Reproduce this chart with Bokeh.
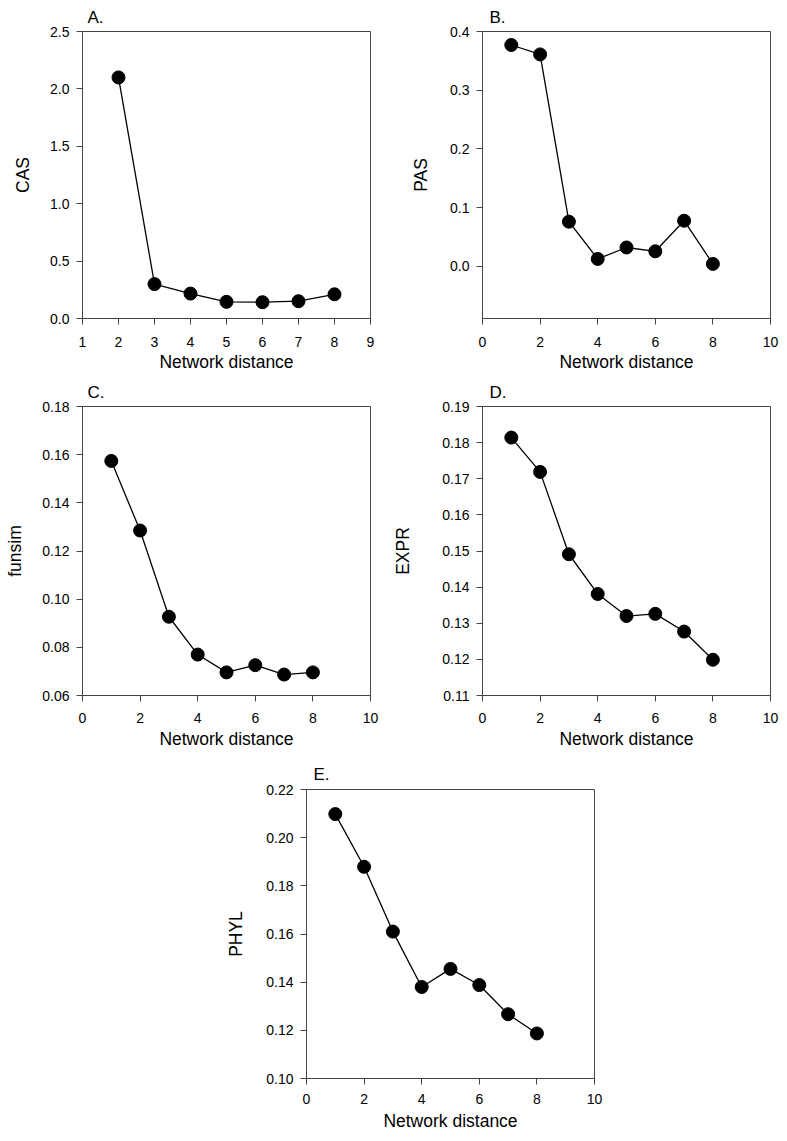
from bokeh.plotting import figure
from bokeh.layouts import column, row
from bokeh.models import FixedTicker, PrintfTickFormatter, Spacer, Range1d
from bokeh.embed import file_html
from bokeh.resources import INLINE

FONT = "Liberation Sans"

# ---- data ----
x_A = [2, 3, 4, 5, 6, 7, 8]
cas = [2.10, 0.30, 0.217, 0.145, 0.142, 0.151, 0.211]

x_B = [1, 2, 3, 4, 5, 6, 7, 8]
pas = [0.377, 0.361, 0.076, 0.0125, 0.032, 0.0255, 0.0776, 0.004]

x_C = [1, 2, 3, 4, 5, 6, 7, 8]
funsim = [0.1574, 0.1285, 0.0927, 0.0770, 0.0696, 0.0726, 0.0687, 0.0696]

x_D = [1, 2, 3, 4, 5, 6, 7, 8]
expr = [0.1814, 0.1719, 0.1491, 0.1381, 0.1320, 0.1326, 0.1277, 0.1199]

x_E = [1, 2, 3, 4, 5, 6, 7, 8]
phyl = [0.2098, 0.1879, 0.1610, 0.1380, 0.1455, 0.1388, 0.1267, 0.1187]

xticks_A = [1, 2, 3, 4, 5, 6, 7, 8, 9]
xticks_other = [0, 2, 4, 6, 8, 10]
yticks_A = [0.0, 0.5, 1.0, 1.5, 2.0, 2.5]
yticks_B = [0.0, 0.1, 0.2, 0.3, 0.4]
yticks_C = [0.06, 0.08, 0.10, 0.12, 0.14, 0.16, 0.18]
yticks_D = [0.11, 0.12, 0.13, 0.14, 0.15, 0.16, 0.17, 0.18, 0.19]
yticks_E = [0.10, 0.12, 0.14, 0.16, 0.18, 0.20, 0.22]


def panel(title, xs, ys, ylabel, xr, yr, xt, yt, yfmt, width, height,
          mbl, mbr, mbt, mbb, toff, tstand, ylstand, xtstand, xlstand):
    p = figure(width=width, height=height, output_backend="svg",
               toolbar_location=None, title=title,
               x_range=Range1d(*xr), y_range=Range1d(*yr),
               min_border_left=mbl, min_border_right=mbr,
               min_border_top=mbt, min_border_bottom=mbb)
    p.title.text_font = FONT
    p.title.text_font_size = "17px"
    p.title.text_font_style = "normal"
    p.title.text_color = "black"
    p.title.offset = toff
    p.title.standoff = tstand
    p.grid.visible = False
    p.outline_line_color = "#444444"
    p.outline_line_width = 1
    for ax in (p.xaxis[0], p.yaxis[0]):
        ax.axis_line_color = "#444444"
        ax.major_tick_line_color = "#444444"
        ax.major_tick_out = 6
        ax.major_tick_in = 0
        ax.minor_tick_line_color = None
        ax.major_label_text_font = FONT
        ax.major_label_text_font_size = "14px"
        ax.major_label_text_color = "black"
        ax.axis_label_text_font = FONT
        ax.axis_label_text_font_size = "17.5px"
        ax.axis_label_text_font_style = "normal"
        ax.axis_label_text_color = "black"
    p.xaxis.ticker = FixedTicker(ticks=xt)
    p.yaxis.ticker = FixedTicker(ticks=yt)
    p.xaxis.formatter = PrintfTickFormatter(format="%d")
    p.yaxis.formatter = PrintfTickFormatter(format=yfmt)
    p.xaxis.axis_label = "Network distance"
    p.yaxis.axis_label = ylabel
    p.xaxis.major_label_standoff = xtstand
    p.yaxis.major_label_standoff = 7
    p.xaxis.axis_label_standoff = xlstand
    p.yaxis.axis_label_standoff = ylstand
    p.line(xs, ys, line_color="black", line_width=1.3)
    p.scatter(xs, ys, size=13, fill_color="black", line_color="black")
    return p


pA = panel("A.", x_A, cas, "CAS", (1, 9), (0, 2.5), xticks_A, yticks_A, "%.1f",
           390, 375, 82, 20, 31, 57, 5, 9, 14, 12, 2)
pB = panel("B.", x_B, pas, "PAS", (0, 10), (-0.089, 0.4), xticks_other, yticks_B, "%.1f",
           390, 375, 92, 10, 31, 57, 7, 9, 16, 12, 2)
pC = panel("C.", x_C, funsim, "funsim", (0, 10), (0.06, 0.18), xticks_other, yticks_C, "%.2f",
           390, 380, 82, 20, 31, 60, 5, 9, 14, 11, 3)
pD = panel("D.", x_D, expr, "EXPR", (0, 10), (0.11, 0.19), xticks_other, yticks_D, "%.2f",
           390, 380, 92, 10, 31, 60, 7, 9, 26, 11, 3)
pE = panel("E.", x_E, phyl, "PHYL", (0, 10), (0.10, 0.22), xticks_other, yticks_E, "%.2f",
           404, 380, 106, 10, 34, 57, 7, 12, 17, 9, 4)

layout = column(row(pA, pB), row(pC, pD), row(Spacer(width=200, height=380), pE))

open("out.html", "w").write(file_html(layout, INLINE))
